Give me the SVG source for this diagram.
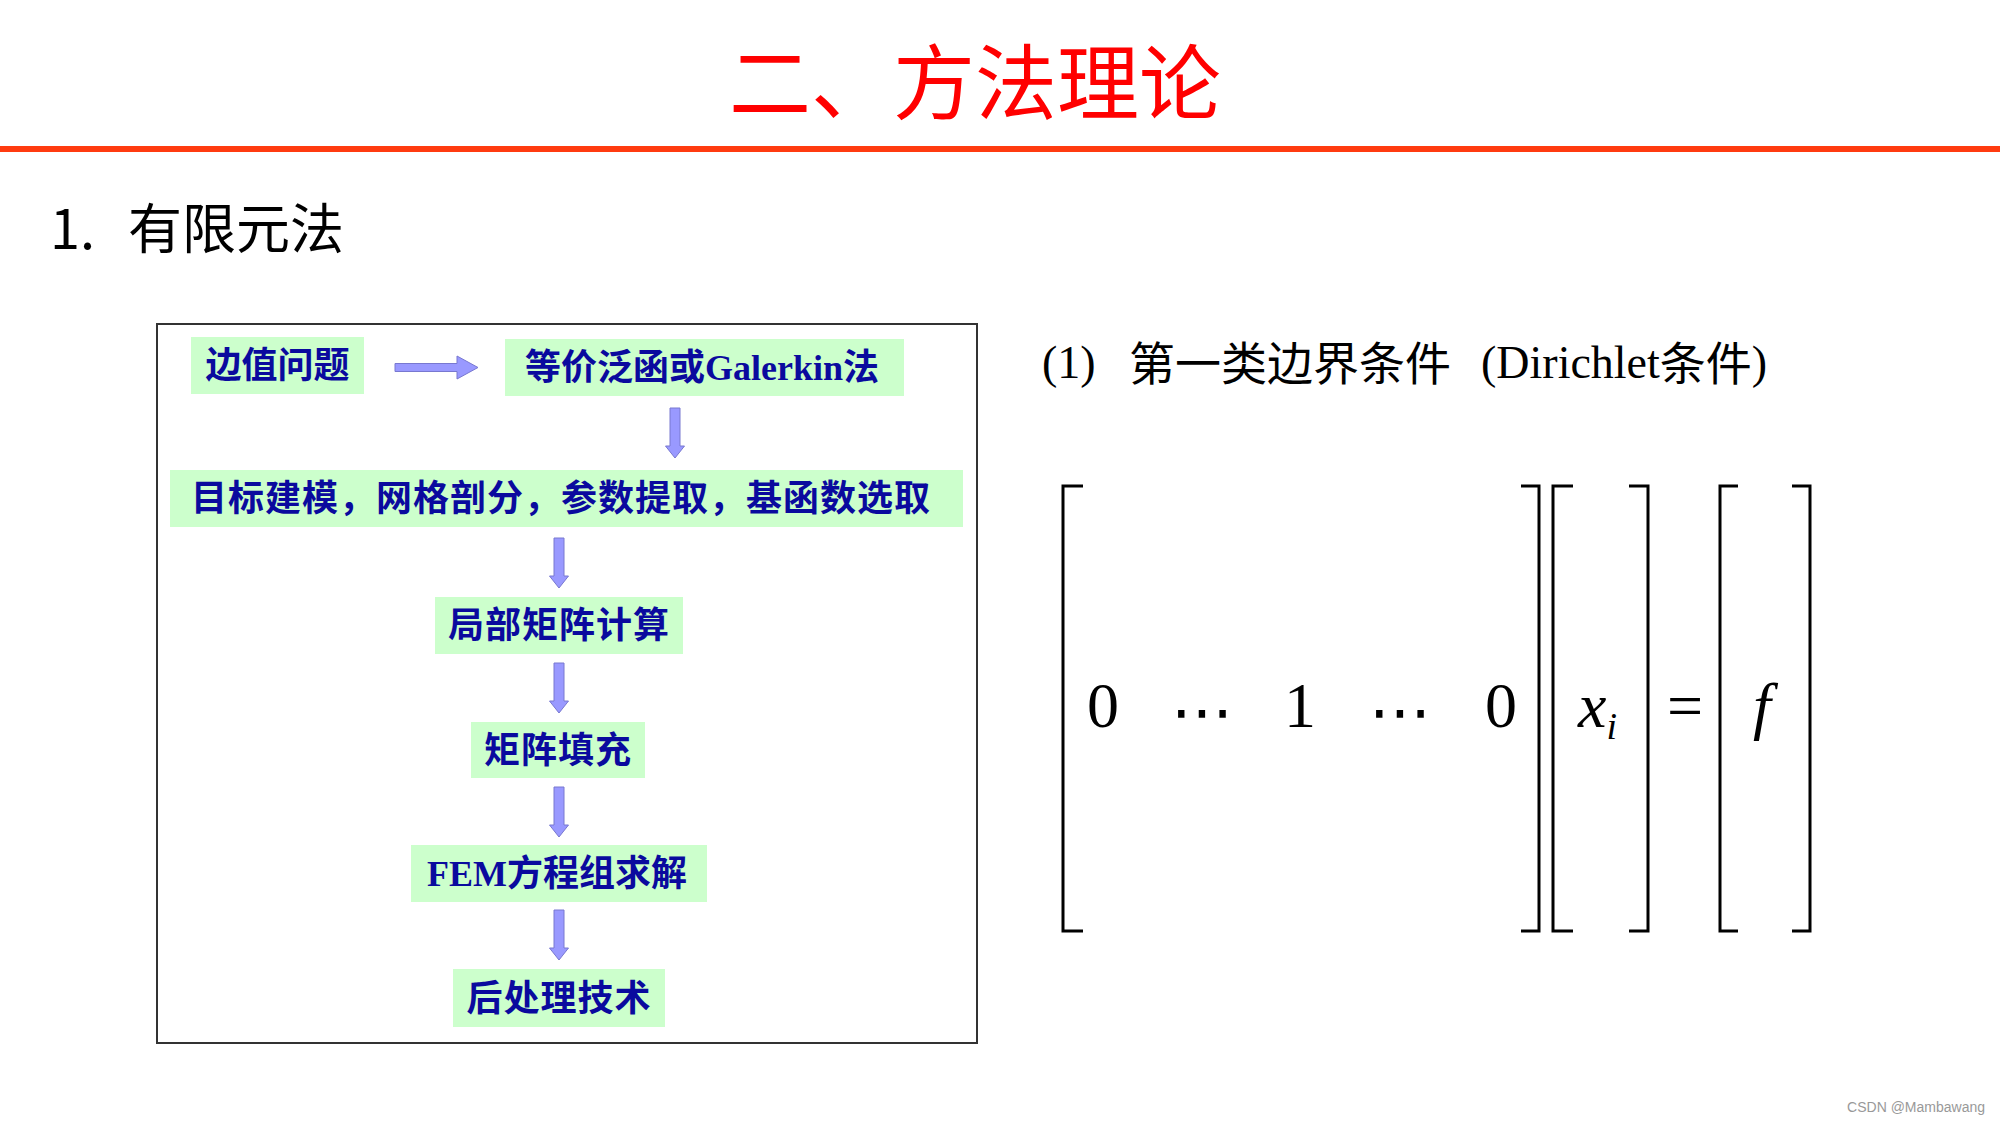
<svg xmlns="http://www.w3.org/2000/svg" xmlns:xlink="http://www.w3.org/1999/xlink" width="2000" height="1125" viewBox="0 0 2000 1125">
<style>
.node{fill:#CCFFCC}
.nt{font-family:"Noto Sans CJK SC","Noto Sans",sans-serif;font-weight:700;font-size:36px;fill:#0A0A9E;text-anchor:middle}
.lat{font-family:"Liberation Serif","Noto Sans CJK SC",serif;font-weight:700}
.arr{fill:#9999FF;stroke:#7878D0;stroke-width:1}
.br{fill:none;stroke:#000;stroke-width:3}
.m{font-family:"Liberation Serif",serif;font-size:64px;fill:#000}
.mi{font-family:"Liberation Serif",serif;font-style:italic;fill:#000}
.dots{font-family:"DejaVu Serif","DejaVu Sans",serif;font-size:62px;fill:#000;text-anchor:middle}
</style>
<defs>
<path id="dn" d="M-5,0 H5 V38 H9.5 L0,50 L-9.5,38 H-5 Z"/>
</defs>
<rect width="2000" height="1125" fill="#FFFFFF"/>
<g id="title">
<text x="975" y="113" font-family="Noto Sans CJK SC,sans-serif" font-size="82" fill="#FF0000" text-anchor="middle">二、方法理论</text>
<rect x="0" y="146" width="2000" height="6" fill="#FF3B10"/>
</g>
<g id="heading">
<text y="249" font-family="Noto Sans CJK SC,sans-serif" font-size="54" fill="#000"><tspan x="50">1.</tspan><tspan x="128">有限元法</tspan></text>
</g>
<g id="frame">
<rect x="157" y="324" width="820" height="719" fill="none" stroke="#333" stroke-width="2"/>
</g>
<g id="n1"><rect class="node" x="191" y="337" width="173" height="57"/><text class="nt" x="277.5" y="378">边值问题</text></g>
<g id="n2"><rect class="node" x="505" y="339" width="399" height="57"/><text class="nt" x="702" y="380">等价泛函或<tspan class="lat">Galerkin</tspan>法</text></g>
<g id="n3"><rect class="node" x="170" y="470" width="793" height="57"/><text class="nt" x="561" y="511" letter-spacing="1">目标建模，网格剖分，参数提取，基函数选取</text></g>
<g id="n4"><rect class="node" x="435" y="597" width="248" height="57"/><text class="nt" x="559" y="638" letter-spacing="1">局部矩阵计算</text></g>
<g id="n5"><rect class="node" x="471" y="722" width="174" height="56"/><text class="nt" x="558" y="763" letter-spacing="1">矩阵填充</text></g>
<g id="n6"><rect class="node" x="411" y="845" width="296" height="57"/><text class="nt" x="557" y="886"><tspan class="lat">FEM</tspan>方程组求解</text></g>
<g id="n7"><rect class="node" x="453" y="969" width="212" height="58"/><text class="nt" x="559" y="1011" letter-spacing="1">后处理技术</text></g>
<g id="connectors">
<path class="arr" d="M395,363.5 H457 V356 L478,367.5 L457,379 V371.5 H395 Z"/>
<use class="arr" xlink:href="#dn" transform="translate(675,408)"/>
<use class="arr" xlink:href="#dn" transform="translate(559,538)"/>
<use class="arr" xlink:href="#dn" transform="translate(559,663)"/>
<use class="arr" xlink:href="#dn" transform="translate(559,787)"/>
<use class="arr" xlink:href="#dn" transform="translate(559,910)"/>
</g>
<g id="condition">
<text y="378" font-size="46" fill="#000"><tspan x="1042" font-family="Liberation Serif,serif">(1)</tspan><tspan x="1129" font-family="Noto Sans CJK SC,sans-serif" y="380">第一类边界条件</tspan><tspan x="1481" y="378" font-family="Liberation Serif,serif">(Dirichlet</tspan><tspan font-family="Noto Sans CJK SC,sans-serif" y="380">条件</tspan><tspan font-family="Liberation Serif,serif" y="378">)</tspan></text>
</g>
<g id="matrix">
<path class="br" d="M1083,486 H1063 V931 H1083"/>
<path class="br" d="M1521,486 H1539 V931 H1521"/>
<path class="br" d="M1573,486 H1553 V931 H1573"/>
<path class="br" d="M1629,486 H1648 V931 H1629"/>
<path class="br" d="M1738,486 H1720 V931 H1738"/>
<path class="br" d="M1792,486 H1810 V931 H1792"/>
<text class="m" x="1103" y="727" text-anchor="middle">0</text>
<text class="dots" x="1202" y="733">⋯</text>
<text class="m" x="1300" y="727" text-anchor="middle">1</text>
<text class="dots" x="1400" y="733">⋯</text>
<text class="m" x="1501" y="727" text-anchor="middle">0</text>
<text class="mi" x="1578" y="727" font-size="64">x<tspan font-size="38" dy="12">i</tspan></text>
<text class="m" x="1685" y="727" text-anchor="middle">=</text>
<text class="mi" x="1762" y="727" font-size="64" text-anchor="middle">f</text>
</g>
<g id="watermark">
<text x="1985" y="1112" font-family="Liberation Sans,sans-serif" font-size="14" fill="#999" text-anchor="end">CSDN @Mambawang</text>
</g>
</svg>
